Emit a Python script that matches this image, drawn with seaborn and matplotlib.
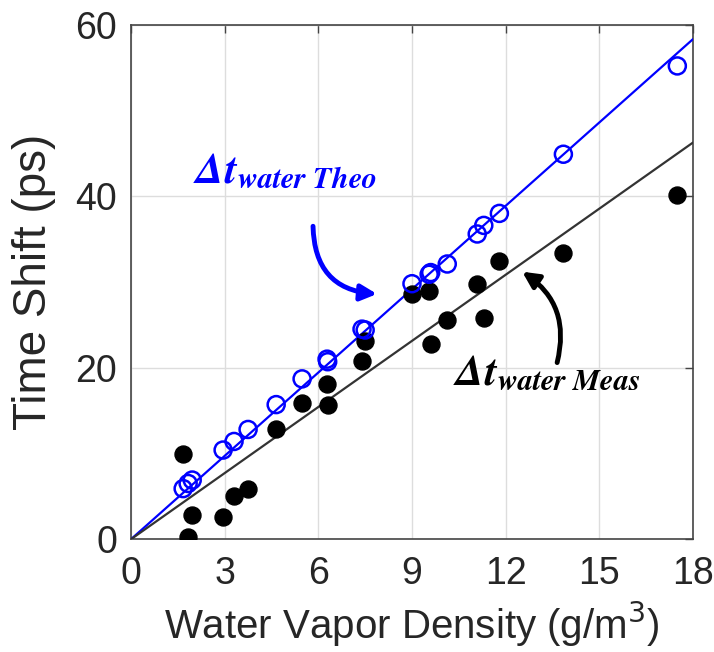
import numpy as np
import pandas as pd
import matplotlib
matplotlib.use("Agg")
import matplotlib.pyplot as plt
import seaborn as sns

# ---- data ----
density = [1.67, 1.83, 1.96, 2.95, 3.30, 3.75, 4.65, 5.48, 6.28, 6.30, 7.40, 7.50,
           9.00, 9.55, 9.60, 10.13, 11.09, 11.30, 11.80, 13.85, 17.50]
theo = [5.9, 6.5, 6.9, 10.4, 11.4, 12.8, 15.7, 18.7, 21.0, 20.7, 24.5, 24.4,
        29.8, 30.9, 31.1, 32.1, 35.6, 36.6, 38.0, 44.9, 55.2]
meas = [9.9, 0.3, 2.8, 2.6, 5.0, 5.9, 12.9, 15.9, 18.1, 15.6, 20.8, 23.1,
        28.6, 29.0, 22.8, 25.6, 29.8, 25.8, 32.5, 33.4, 40.2]
fit_x = [0, 18]
slope_theo = 3.24
slope_meas = 2.57
x_ticks = [0, 3, 6, 9, 12, 15, 18]
y_ticks = [0, 20, 40, 60]

sns.set_theme(style="white")
plt.rcParams["font.family"] = ["Liberation Sans", "DejaVu Sans"]
plt.rcParams["mathtext.fontset"] = "stix"

fig = plt.figure(figsize=(7.14, 6.52), dpi=100)
ax = fig.add_axes([0.1835, 0.173, 0.787, 0.789])

line_df = pd.DataFrame({
    "x": fit_x * 2,
    "y": [slope_theo * v for v in fit_x] + [slope_meas * v for v in fit_x],
    "s": ["theo"] * 2 + ["meas"] * 2,
})
sns.lineplot(data=line_df[line_df.s == "theo"], x="x", y="y", color="#0000ff", lw=1.6, ax=ax, zorder=3)
sns.lineplot(data=line_df[line_df.s == "meas"], x="x", y="y", color="#333333", lw=1.6, ax=ax, zorder=3)

df = pd.DataFrame({"d": density, "theo": theo, "meas": meas})
sns.scatterplot(data=df, x="d", y="meas", s=150, color="black", edgecolor="black", ax=ax, zorder=4)
sns.scatterplot(data=df, x="d", y="theo", s=150, facecolor="none", edgecolor="#0000ff", linewidth=1.8, ax=ax, zorder=5)

ax.set_xlim(0, 18)
ax.set_ylim(0, 60)
ax.set_xticks(x_ticks)
ax.set_yticks(y_ticks)
ax.grid(True, color="#dddddd", lw=1)
ax.set_axisbelow(True)
for sp in ax.spines.values():
    sp.set_color("#444444")
    sp.set_linewidth(1.2)
ax.tick_params(axis="both", direction="in", length=6, width=1, top=True, right=True, colors="#444444",
               labelsize=27, labelcolor="#262626")
ax.tick_params(axis="x", pad=12)
ax.tick_params(axis="y", pad=10)
ax.set_xlabel("Water Vapor Density (g/m$^3$)", fontsize=29, color="#262626", labelpad=6)
ax.set_ylabel("Time Shift (ps)", fontsize=33, color="#262626", labelpad=14)
ax.xaxis.label.set_math_fontfamily("dejavusans")

ax.text(2.0, 41.5, r"$\mathbfit{\Delta t}_{\mathbfit{water\ Theo}}$", color="#0000ff", fontsize=31)
ax.text(10.3, 17.9, r"$\mathbfit{\Delta t}_{\mathbfit{water\ Meas}}$", color="black", fontsize=31)

ax.annotate("", xy=(7.88, 28.6), xytext=(5.83, 36.5),
            arrowprops=dict(arrowstyle="-|>,head_length=0.8,head_width=0.4", color="#0000ff", lw=3.5,
                            connectionstyle="arc3,rad=0.45", shrinkA=0, shrinkB=0))
ax.annotate("", xy=(12.53, 31.2), xytext=(13.65, 20.6),
            arrowprops=dict(arrowstyle="-|>,head_length=0.8,head_width=0.4", color="black", lw=3.5,
                            connectionstyle="arc3,rad=0.35", shrinkA=0, shrinkB=0))

fig.savefig("out.png", dpi=100)
